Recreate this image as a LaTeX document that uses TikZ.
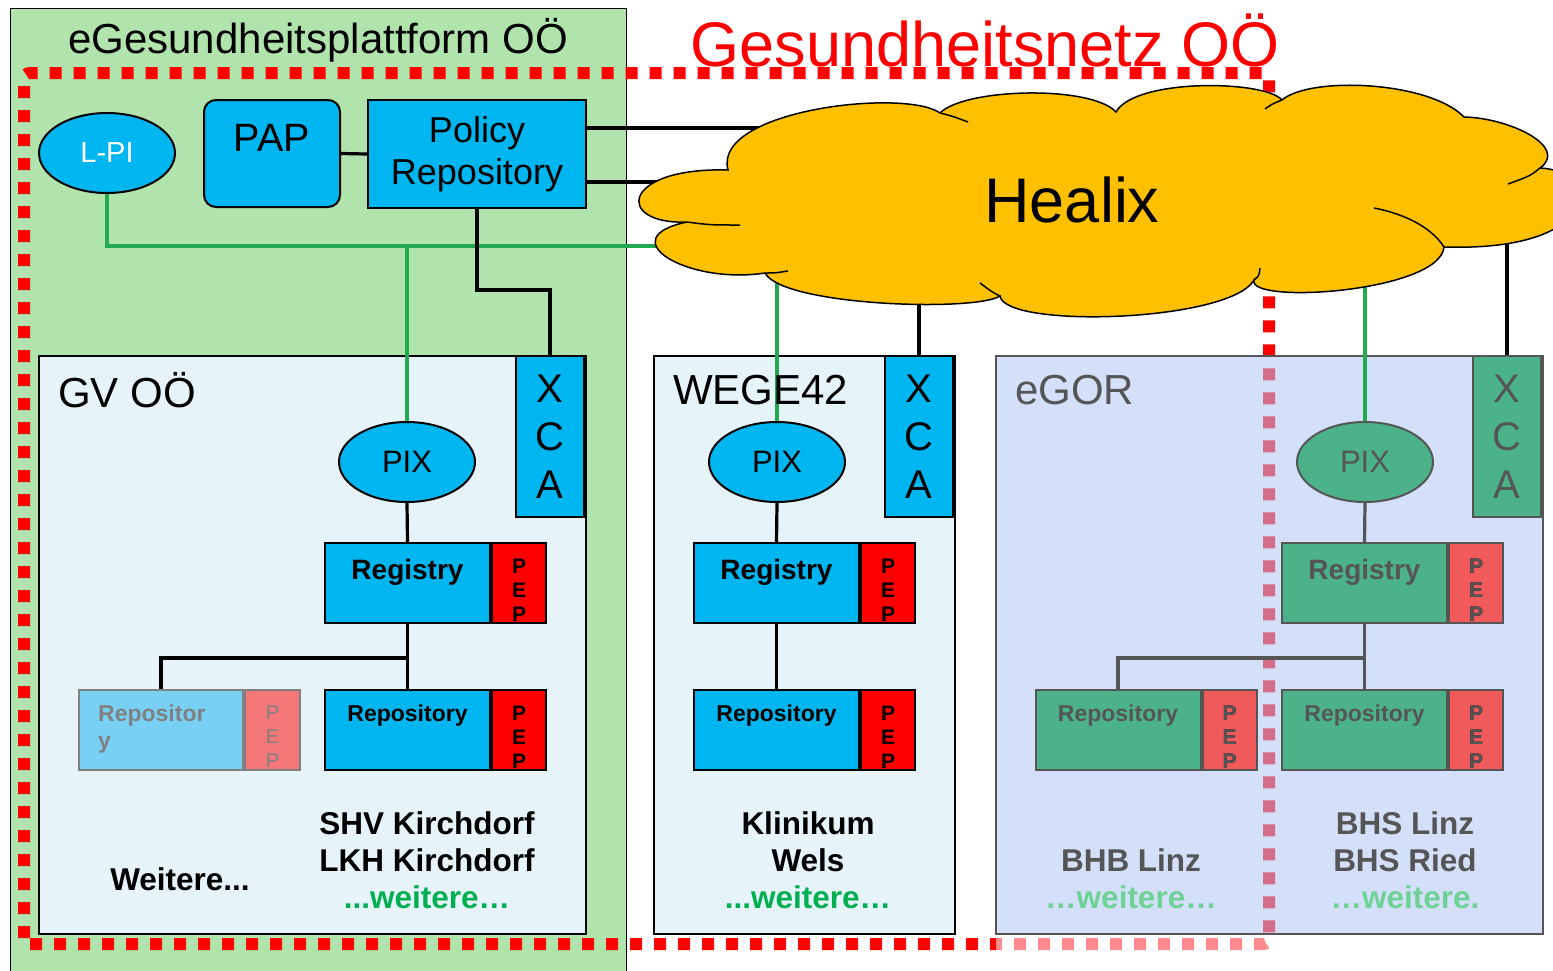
\documentclass[tikz,border=0pt]{standalone}
\usepackage{fontspec}
\setmainfont{Liberation Sans}
\usetikzlibrary{positioning,shapes.geometric}

\definecolor{platgreen}{RGB}{176,228,172}
\definecolor{cyanbox}{RGB}{0,182,240}
\definecolor{healixorange}{RGB}{255,192,0}
\definecolor{linegreen}{RGB}{34,170,80}
\definecolor{textgreen}{RGB}{0,176,80}
\definecolor{netred}{RGB}{255,0,0}
\definecolor{gvfill}{RGB}{230,244,250}
\definecolor{egorfill}{RGB}{177,199,246}
\definecolor{egorteal}{RGB}{76,178,138}
\definecolor{egorpep}{RGB}{240,90,90}
\definecolor{egorgray}{RGB}{85,85,85}
\definecolor{egorgreen}{RGB}{110,210,150}
\definecolor{palecyan}{RGB}{120,208,245}
\definecolor{palepep}{RGB}{245,120,120}

\pgfdeclarelayer{back}
\pgfdeclarelayer{lines}
\pgfsetlayers{back,lines,main}

\newcommand\fsz[2]{\fontsize{#1}{#2}\selectfont}

\begin{document}
\begin{tikzpicture}[x=1pt,y=-1pt,
    lbl/.style={inner sep=0pt},
    box/.style={draw, line width=2pt, inner sep=0pt},
    cbox/.style={box, fill=cyanbox, minimum width=165, minimum height=80},
    ebox/.style={box, draw=egorgray, fill=egorteal, minimum width=165, minimum height=80},
    peptxt/.style={align=center, font=\fsz{21}{24}\bfseries, yshift=-7pt},
    pepbox/.style={box, fill=netred, minimum width=54, minimum height=80, label={[peptxt]center:P\\E\\P}},
    epepbox/.style={pepbox, draw=egorgray, fill=egorpep, label={[peptxt, text=egorgray]center:P\\E\\P}},
    xcabox/.style={box, minimum width=68, minimum height=161, anchor=north east, font=\fsz{40}{48}, align=center},
    pixell/.style={ellipse, draw, line width=2pt, minimum width=136, minimum height=80, inner sep=0pt, font=\fsz{31}{31}},
    region/.style={box, anchor=north west, minimum width=547, minimum height=578},
    regtitle/.style={lbl, anchor=west, font=\fsz{42}{42}},
    regtxt/.style={lbl, font=\fsz{28}{28}\bfseries},
    reptxt/.style={lbl, font=\fsz{23}{27}\bfseries},
    site/.style={align=center, font=\fsz{31.5}{37}\bfseries},
    bline/.style={line width=3.2pt},
    gline/.style={linegreen, line width=3.3pt},
  ]
  \useasboundingbox (0,0) rectangle (1553,970);

  % regions in the back
  \begin{pgfonlayer}{back}
    \node[box, line width=1.2pt, fill=platgreen, anchor=north west, minimum width=616, minimum height=975] (egp) at (10,8) {};
    \draw[netred, line width=12pt, dash pattern=on 12pt off 12pt, rounded corners=6pt]
      (24,944) -- (24,73) -- (1269,73) -- (1269,944) -- cycle;
    \fill[white, opacity=0.55] (996,935) rectangle (1277,957);
    \node[region, fill=gvfill] (gv) at (38,355) {};
    \node[region, minimum width=301, fill=gvfill] (wg) at (653,355) {};
    \node[region, draw=egorgray, fill=egorfill, fill opacity=0.55] (egor) at (995,355) {};
  \end{pgfonlayer}

  \node[font=\fsz{42}{42}] (egptitle) at (318,40) {eGesundheitsplattform OÖ};
  \node[font=\fsz{63}{63}, text=netred] (nettitle) at (985,40) {Gesundheitsnetz OÖ};

  % platform
  \node[pixell, fill=cyanbox, text=white, font=\fsz{29}{29}] (lpi) at (107,153) {L-PI};
  \node[box, fill=cyanbox, rounded corners=12pt, minimum width=136, minimum height=107, anchor=north west] (pap) at (203,99) {};
  \node[lbl, font=\fsz{39.5}{40}, below=25pt of pap.north] (paptxt) {PAP};
  \node[box, fill=cyanbox, minimum width=218, minimum height=108, anchor=north west, align=center, font=\fsz{36}{42}] (polrep) at (367,99) {Policy\\Repository};

  % Healix cloud
  \filldraw[fill=healixorange, line width=1.5pt]
    (728,170) .. controls (712,110) and (905,88) .. (940,113)
    .. controls (965,88) and (1091,85) .. (1116,112)
    .. controls (1135,78) and (1265,80) .. (1282,100)
    .. controls (1310,76) and (1429,81) .. (1464,117)
    .. controls (1510,118) and (1569,147) .. (1540,168)
    .. controls (1600,170) and (1605,252) .. (1444,247)
    .. controls (1440,292) and (1247,305) .. (1254,280)
    .. controls (1230,322) and (1005,329) .. (1000,296)
    .. controls (975,312) and (783,306) .. (765,273)
    .. controls (687,285) and (610,238) .. (687,222)
    .. controls (615,225) and (620,167) .. (728,170) -- cycle;
  \draw[line width=1.5pt] (940,113) .. controls (952,116) .. (968,122);
  \draw[line width=1.5pt] (1265,109) .. controls (1272,104) .. (1282,100);
  \draw[line width=1.5pt] (1540,168) .. controls (1530,176) .. (1508,184);
  \draw[line width=1.5pt] (1444,247) .. controls (1430,225) and (1400,213) .. (1374,208);
  \draw[line width=1.5pt] (1254,280) .. controls (1259,276) .. (1260,268);
  \draw[line width=1.5pt] (1000,296) .. controls (992,292) .. (980,283);
  \draw[line width=1.5pt] (765,273) .. controls (775,273) .. (788,271);
  \draw[line width=1.5pt] (687,222) .. controls (710,225) .. (740,225);
  \coordinate (healix) at (1072,200);
  \node[font=\fsz{63}{63}] (healixtxt) at (healix) {Healix};

  % GV OOE
  \node[regtitle] (gvtitle) at (58,390) {GV OÖ};
  \node[xcabox, fill=cyanbox] (gvxca) at (585,355) {X\\C\\A};
  \node[pixell, fill=cyanbox] (gvpix) at (407,462) {PIX};
  \node[cbox] (gvreg) at (407.5,583) {};
  \node[pepbox, right=0pt of gvreg] (gvregpep) {};
  \node[regtxt, below=17pt of gvreg.north] (gvregtxt) {Registry};
  \node[cbox] (gvrep) at (407.5,730) {};
  \node[pepbox, right=0pt of gvrep] (gvreppep) {};
  \node[reptxt, below=16pt of gvrep.north] (gvreptxt) {Repository};
  \node[box, draw=gray, fill=palecyan, minimum width=164, minimum height=80] (gvrep2) at (161,730) {};
  \node[box, draw=gray, fill=palepep, minimum width=55, minimum height=80, right=0pt of gvrep2,
    label={[peptxt, text=gray, font=\fsz{20}{24}]center:P\\E\\P}] (gvrep2pep) {};
  \node[reptxt, text=gray, align=left, anchor=north west] (gvrep2txt) at ([xshift=20pt,yshift=-16pt]gvrep2.north west) {Repositor\\y};
  \node[site] (gvsite) at (427,860) {SHV Kirchdorf\\LKH Kirchdorf\\\textcolor{textgreen}{...weitere…}};
  \node[site] (gvmore) at (180,879) {Weitere...};

  % WEGE42
  \node[regtitle] (wgtitle) at (673,390) {WEGE42};
  \node[xcabox, fill=cyanbox] (wgxca) at (954,355) {X\\C\\A};
  \node[pixell, fill=cyanbox] (wgpix) at (777,462) {PIX};
  \node[cbox] (wgreg) at (776.5,583) {};
  \node[pepbox, right=0pt of wgreg] (wgregpep) {};
  \node[regtxt, below=17pt of wgreg.north] (wgregtxt) {Registry};
  \node[cbox] (wgrep) at (776.5,730) {};
  \node[pepbox, right=0pt of wgrep] (wgreppep) {};
  \node[reptxt, below=16pt of wgrep.north] (wgreptxt) {Repository};
  \node[site] (wgsite) at (808,860) {Klinikum\\Wels\\\textcolor{textgreen}{...weitere…}};

  % eGOR
  \node[regtitle, text=egorgray] (egtitle) at (1015,390) {eGOR};
  \node[xcabox, draw=egorgray, fill=egorteal, text=egorgray] (egxca) at (1542,355) {X\\C\\A};
  \node[pixell, draw=egorgray, fill=egorteal, text=egorgray] (egpix) at (1365,462) {PIX};
  \node[ebox] (egreg) at (1364.5,583) {};
  \node[epepbox, right=0pt of egreg] (egregpep) {};
  \node[regtxt, text=egorgray, below=17pt of egreg.north] (egregtxt) {Registry};
  \node[ebox] (egrep) at (1364.5,730) {};
  \node[epepbox, right=0pt of egrep] (egreppep) {};
  \node[reptxt, text=egorgray, below=16pt of egrep.north] (egreptxt) {Repository};
  \node[ebox] (egrep2) at (1118,730) {};
  \node[epepbox, right=0pt of egrep2] (egrep2pep) {};
  \node[reptxt, text=egorgray, below=16pt of egrep2.north] (egrep2txt) {Repository};
  \node[site, text=egorgray] (egsite) at (1131,879) {BHB Linz\\\textcolor{egorgreen}{…weitere…}};
  \node[site, text=egorgray] (egsite2) at (1405,860) {BHS Linz\\BHS Ried\\\textcolor{egorgreen}{…weitere.}};

  % connectors
  \begin{pgfonlayer}{lines}
    \coordinate (hgreen) at (800,246);
    \draw[gline, line width=4.3pt] (lpi.south) |- (hgreen);
    \draw[gline] (gvpix.north) -- (gvpix.north |- hgreen);
    \draw[gline] (wgpix.north) -- (wgpix.north |- healix);
    \draw[gline] (egpix.north) -- (egpix.north |- healix);
    \draw[bline] (pap.east) -- (polrep.west);
    \draw[bline] ([yshift=26pt]polrep.east) -- ++(260,0);
    \draw[bline] ([yshift=-28pt]polrep.east) -- ++(120,0);
    \draw[bline] (polrep.south) -- ++(0,81) -| (gvxca.north);
    \draw[bline] (wgxca.north) -- (wgxca.north |- healix);
    \draw[bline] (egxca.north) -- (egxca.north |- healix);
    \draw[bline] (gvpix.south) -- (gvreg.north);
    \draw[bline] (gvreg.south) -- (gvrep.north);
    \draw[bline] (gvreg.south) -- ++(0,34) -| (gvrep2.north);
    \draw[bline] (wgpix.south) -- (wgreg.north);
    \draw[bline] (wgreg.south) -- (wgrep.north);
    \draw[bline, egorgray] (egpix.south) -- (egreg.north);
    \draw[bline, egorgray] (egreg.south) -- (egrep.north);
    \draw[bline, egorgray] (egreg.south) -- ++(0,34) -| (egrep2.north);
  \end{pgfonlayer}
\end{tikzpicture}
\end{document}
